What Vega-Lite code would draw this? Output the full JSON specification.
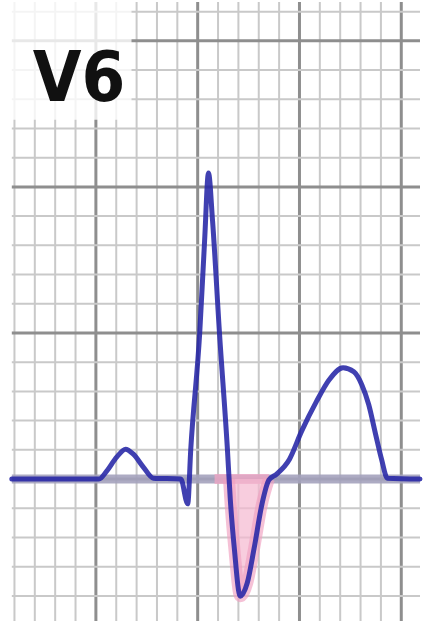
{
  "$schema": "https://vega.github.io/schema/vega-lite/v6.json",
  "autosize": {"type": "fit", "contains": "padding"},
  "width": 425,
  "height": 623,
  "padding": 0,
  "background": "white",
  "config": {"view": {"stroke": null}},
  "datasets": {
    "vlines": [
      {"pos": -4, "grid": "minor"}, {"pos": -3, "grid": "minor"}, {"pos": -2, "grid": "minor"}, {"pos": -1, "grid": "minor"},
      {"pos": 0, "grid": "major"}, {"pos": 1, "grid": "minor"}, {"pos": 2, "grid": "minor"}, {"pos": 3, "grid": "minor"},
      {"pos": 4, "grid": "minor"}, {"pos": 5, "grid": "major"}, {"pos": 6, "grid": "minor"}, {"pos": 7, "grid": "minor"},
      {"pos": 8, "grid": "minor"}, {"pos": 9, "grid": "minor"}, {"pos": 10, "grid": "major"}, {"pos": 11, "grid": "minor"},
      {"pos": 12, "grid": "minor"}, {"pos": 13, "grid": "minor"}, {"pos": 14, "grid": "minor"}, {"pos": 15, "grid": "major"}
    ],
    "hlines": [
      {"pos": -4, "grid": "minor"}, {"pos": -3, "grid": "minor"}, {"pos": -2, "grid": "minor"}, {"pos": -1, "grid": "minor"},
      {"pos": 0, "grid": "major"}, {"pos": 1, "grid": "minor"}, {"pos": 2, "grid": "minor"}, {"pos": 3, "grid": "minor"},
      {"pos": 4, "grid": "minor"}, {"pos": 5, "grid": "major"}, {"pos": 6, "grid": "minor"}, {"pos": 7, "grid": "minor"},
      {"pos": 8, "grid": "minor"}, {"pos": 9, "grid": "minor"}, {"pos": 10, "grid": "major"}, {"pos": 11, "grid": "minor"},
      {"pos": 12, "grid": "minor"}, {"pos": 13, "grid": "minor"}, {"pos": 14, "grid": "minor"}, {"pos": 15, "grid": "major"},
      {"pos": 16, "grid": "minor"}
    ],
    "trace": [
      {"t": -4.13, "v": 0}, {"t": 0.15, "v": 0}, {"t": 0.53, "v": 0.27}, {"t": 1.02, "v": 0.75},
      {"t": 1.46, "v": 1.02}, {"t": 1.84, "v": 0.85}, {"t": 2.33, "v": 0.41}, {"t": 2.82, "v": 0.03},
      {"t": 4.17, "v": 0}, {"t": 4.51, "v": -0.85}, {"t": 4.66, "v": 1.02}, {"t": 5.10, "v": 5.0},
      {"t": 5.34, "v": 8.16}, {"t": 5.53, "v": 10.48}, {"t": 5.73, "v": 8.84}, {"t": 6.07, "v": 5.0},
      {"t": 6.46, "v": 1.02}, {"t": 6.60, "v": -0.68}, {"t": 6.80, "v": -2.38}, {"t": 7.09, "v": -4.01},
      {"t": 7.43, "v": -3.57}, {"t": 7.77, "v": -2.38}, {"t": 8.16, "v": -0.85}, {"t": 8.50, "v": -0.03},
      {"t": 8.88, "v": 0.17}, {"t": 9.51, "v": 0.68}, {"t": 10.10, "v": 1.63}, {"t": 10.83, "v": 2.65},
      {"t": 11.46, "v": 3.40}, {"t": 12.14, "v": 3.81}, {"t": 12.67, "v": 3.67}, {"t": 13.06, "v": 3.23},
      {"t": 13.40, "v": 2.55}, {"t": 13.74, "v": 1.53}, {"t": 14.03, "v": 0.68}, {"t": 14.32, "v": 0.03},
      {"t": 15.92, "v": 0}
    ],
    "swave": [
      {"t": 6.54, "v": 0}, {"t": 6.60, "v": -0.68}, {"t": 6.80, "v": -2.38}, {"t": 7.09, "v": -4.01},
      {"t": 7.43, "v": -3.57}, {"t": 7.77, "v": -2.38}, {"t": 8.16, "v": -0.85}, {"t": 8.50, "v": 0}
    ],
    "label": [{"text": "V6"}]
  },
  "layer": [
    {
      "data": {"name": "vlines"},
      "mark": {"type": "rule"},
      "encoding": {
        "x": {"field": "pos", "type": "quantitative", "scale": {"domain": [-4.71, 15.92], "nice": false, "zero": false}, "axis": null},
        "color": {"field": "grid", "type": "nominal", "scale": {"domain": ["minor", "major"], "range": ["#c9c9c9", "#8e8e8e"]}, "legend": null},
        "strokeWidth": {"field": "grid", "type": "nominal", "scale": {"domain": ["minor", "major"], "range": [2, 3]}, "legend": null}
      }
    },
    {
      "data": {"name": "hlines"},
      "mark": {"type": "rule"},
      "encoding": {
        "y": {"field": "pos", "type": "quantitative", "scale": {"domain": [-4.86, 16.33], "nice": false, "zero": false}, "axis": null},
        "x": {"datum": -4.13, "type": "quantitative"},
        "x2": {"datum": 15.92},
        "color": {"field": "grid", "type": "nominal", "legend": null},
        "strokeWidth": {"field": "grid", "type": "nominal", "legend": null}
      }
    },
    {
      "data": {"name": "label"},
      "mark": {"type": "rect", "color": "white", "opacity": 0.8},
      "encoding": {
        "x": {"datum": -4.3, "type": "quantitative"},
        "x2": {"datum": 1.75},
        "y": {"datum": 12.3, "type": "quantitative"},
        "y2": {"datum": 16.33}
      }
    },
    {
      "data": {"name": "label"},
      "mark": {"type": "rule", "color": "#a4a2bc", "strokeWidth": 9, "opacity": 0.9},
      "encoding": {
        "y": {"datum": 0, "type": "quantitative"},
        "x": {"datum": -4.13, "type": "quantitative"},
        "x2": {"datum": 15.92}
      }
    },
    {
      "data": {"name": "label"},
      "mark": {"type": "rule", "color": "#f2a6c4", "strokeWidth": 10, "opacity": 0.75},
      "encoding": {
        "y": {"datum": 0, "type": "quantitative"},
        "x": {"datum": 5.83, "type": "quantitative"},
        "x2": {"datum": 8.5}
      }
    },
    {
      "data": {"name": "swave"},
      "mark": {"type": "area", "color": "#f5b8d0", "opacity": 0.7, "interpolate": "monotone"},
      "encoding": {
        "x": {"field": "t", "type": "quantitative"},
        "y": {"field": "v", "type": "quantitative"},
        "y2": {"datum": 0}
      }
    },
    {
      "data": {"name": "swave"},
      "mark": {"type": "line", "color": "#f0a0c0", "strokeWidth": 12, "opacity": 0.65, "interpolate": "monotone"},
      "encoding": {
        "x": {"field": "t", "type": "quantitative"},
        "y": {"field": "v", "type": "quantitative"}
      }
    },
    {
      "data": {"name": "trace"},
      "mark": {"type": "line", "color": "#2626a6", "strokeWidth": 5, "opacity": 0.88, "interpolate": "monotone", "strokeJoin": "round", "strokeCap": "round"},
      "encoding": {
        "x": {"field": "t", "type": "quantitative"},
        "y": {"field": "v", "type": "quantitative"}
      }
    },
    {
      "data": {"name": "label"},
      "mark": {"type": "text", "align": "left", "baseline": "alphabetic", "fontSize": 70, "fontWeight": "bold", "font": "DejaVu Sans Condensed, Liberation Sans Narrow, sans-serif", "color": "#111111"},
      "encoding": {
        "x": {"datum": -3.1, "type": "quantitative"},
        "y": {"datum": 12.95, "type": "quantitative"},
        "text": {"field": "text"}
      }
    }
  ]
}
